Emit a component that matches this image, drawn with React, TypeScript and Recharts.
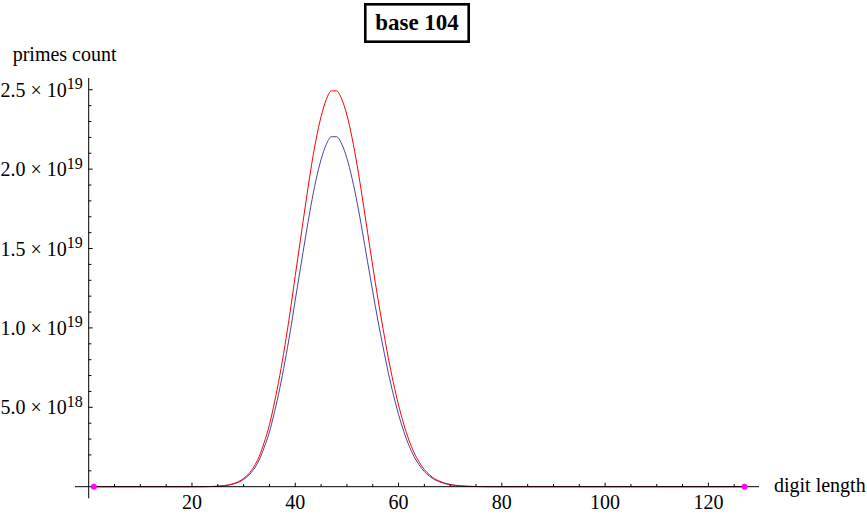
import React from 'react';
import { ComposedChart, Line, Scatter, XAxis, YAxis, ReferenceLine } from 'recharts';

// digit length (categories along x)
const digitLengths = [1, 20, 21, 22, 23, 24, 25, 26, 27, 28, 29, 30, 31, 32, 33, 34, 35, 36, 37, 38, 39, 40, 41, 42, 43, 44, 45, 46, 47, 48, 49, 50, 51, 52, 53, 54, 55, 56, 57, 58, 59, 60, 61, 62, 63, 64, 65, 66, 67, 68, 69, 70, 71, 72, 73, 74, 75, 76, 77, 78, 79, 80, 127];

// primes count, in units of 10^18 (red curve)
const redCounts = [0, 0, 0.002, 0.004, 0.008, 0.015, 0.03, 0.06, 0.11, 0.19, 0.32, 0.52, 0.82, 1.26, 1.9, 2.8, 3.9, 5.35, 7.0, 8.9, 11.0, 13.3, 15.55, 17.8, 19.95, 21.82, 23.32, 24.38, 24.93, 24.93, 24.41, 23.41, 21.97, 20.2, 18.18, 16.03, 13.9, 11.85, 9.95, 8.15, 6.55, 5.15, 3.95, 2.95, 2.15, 1.55, 1.08, 0.75, 0.5, 0.34, 0.22, 0.14, 0.09, 0.055, 0.033, 0.02, 0.012, 0.007, 0.004, 0.002, 0.001, 0, 0];

// primes count, in units of 10^18 (blue curve)
const blueCounts = [0, 0, 0.002, 0.0035, 0.007, 0.013, 0.026, 0.053, 0.097, 0.17, 0.28, 0.46, 0.72, 1.11, 1.68, 2.48, 3.45, 4.73, 6.19, 7.87, 9.72, 11.76, 13.75, 15.74, 17.64, 19.29, 20.61, 21.55, 22.04, 22.04, 21.58, 20.69, 19.42, 17.86, 16.07, 14.17, 12.29, 10.48, 8.8, 7.2, 5.79, 4.55, 3.49, 2.61, 1.9, 1.37, 0.95, 0.66, 0.44, 0.3, 0.19, 0.12, 0.08, 0.049, 0.029, 0.018, 0.011, 0.006, 0.0035, 0.002, 0.001, 0, 0];

// magenta end points
const endPointLengths = [1, 127];
const endPointCounts = [0, 0];

// ticks
const xMinorTicks = [5, 10, 15, 20, 25, 30, 35, 40, 45, 50, 55, 60, 65, 70, 75, 80, 85, 90, 95, 100, 105, 110, 115, 120, 125];
const xMajorTicks = [20, 40, 60, 80, 100, 120];
const yMinorTicks = [1, 2, 3, 4, 5, 6, 7, 8, 9, 10, 11, 12, 13, 14, 15, 16, 17, 18, 19, 20, 21, 22, 23, 24, 25];
const yMajorTicks = [5, 10, 15, 20, 25];
const yMajorMantissas = ['5.0', '1.0', '1.5', '2.0', '2.5'];
const yMajorExponents = ['18', '19', '19', '19', '19'];

const rows = digitLengths.map((x, i) => ({ x, red: redCounts[i], blue: blueCounts[i] }));
const endPoints = endPointLengths.map((x, i) => ({ x, count: endPointCounts[i] }));

const FONT = "'Liberation Serif', 'Times New Roman', Times, serif";

const XTick = (props: any) => {
  const { x, y, payload } = props;
  const v = payload.value;
  const major = xMajorTicks.includes(v);
  return (
    <g>
      <line x1={x} x2={x} y1={y} y2={y - (major ? 4 : 2.7)} stroke="#000" strokeWidth={1} />
      {major && (
        <text x={x} y={y + 21.8} textAnchor="middle" fontFamily={FONT} fontSize={20} fill="#000">
          {v}
        </text>
      )}
    </g>
  );
};

const YTick = (props: any) => {
  const { x, y, payload } = props;
  const v = payload.value;
  const idx = yMajorTicks.indexOf(v);
  const major = idx >= 0;
  return (
    <g>
      <line x1={x} x2={x + (major ? 4 : 2.7)} y1={y} y2={y} stroke="#000" strokeWidth={1} />
      {major && (
        <text x={x - 6} y={y + 7} textAnchor="end" fontFamily={FONT} fontSize={20} fill="#000">
          {yMajorMantissas[idx]} × 10
          <tspan dy={-7.5} fontSize={16}>{yMajorExponents[idx]}</tspan>
        </text>
      )}
    </g>
  );
};

export default function App() {
  return (
    <div style={{ position: 'absolute', left: 0, top: 0, width: 867, height: 514, background: '#fff' }}>
      <ComposedChart
        width={867}
        height={514}
        data={rows}
        margin={{ top: 78, right: 108, bottom: 17.3, left: 78.7 }}
      >
        <XAxis
          type="number"
          dataKey="x"
          domain={[0, 129.8]}
          ticks={xMinorTicks}
          interval={0}
          height={10}
          tickSize={0}
          tickMargin={0}
          tickLine={false}
          tick={<XTick />}
          axisLine={{ stroke: '#000', strokeWidth: 1 }}
        />
        <YAxis
          type="number"
          domain={[0, 25.74]}
          ticks={yMinorTicks}
          interval={0}
          width={10}
          tickSize={0}
          tickMargin={0}
          tickLine={false}
          tick={<YTick />}
          axisLine={{ stroke: '#000', strokeWidth: 1 }}
        />
        <ReferenceLine
          segment={[{ x: -2.65, y: 0 }, { x: 0, y: 0 }]}
          stroke="#000"
          strokeWidth={1}
          ifOverflow="visible"
        />
        <ReferenceLine
          segment={[{ x: 0, y: -0.73 }, { x: 0, y: 0 }]}
          stroke="#000"
          strokeWidth={1}
          ifOverflow="visible"
        />
        <Line type="monotone" dataKey="blue" stroke="#4545a5" strokeWidth={1} dot={false} isAnimationActive={false} />
        <Line type="monotone" dataKey="red" stroke="#ff0000" strokeWidth={1} dot={false} isAnimationActive={false} />
        <Scatter
          data={endPoints}
          dataKey="count"
          isAnimationActive={false}
          shape={(p: any) => <circle cx={p.cx} cy={p.cy} r={3} fill="#ff00ff" />}
        />
      </ComposedChart>
      <svg width={867} height={514} style={{ position: 'absolute', left: 0, top: 0, pointerEvents: 'none' }}>
        <rect x={365.3} y={4.3} width={103.4} height={37.4} fill="#fff" stroke="#000" strokeWidth={2.6} />
        <text x={417} y={29.5} textAnchor="middle" fontFamily={FONT} fontWeight="bold" fontSize={23} fill="#000">
          base 104
        </text>
        <text x={12.7} y={61} fontFamily={FONT} fontSize={20} fill="#000">
          primes count
        </text>
        <text x={774} y={491.5} fontFamily={FONT} fontSize={20} fill="#000">
          digit length
        </text>
      </svg>
    </div>
  );
}
